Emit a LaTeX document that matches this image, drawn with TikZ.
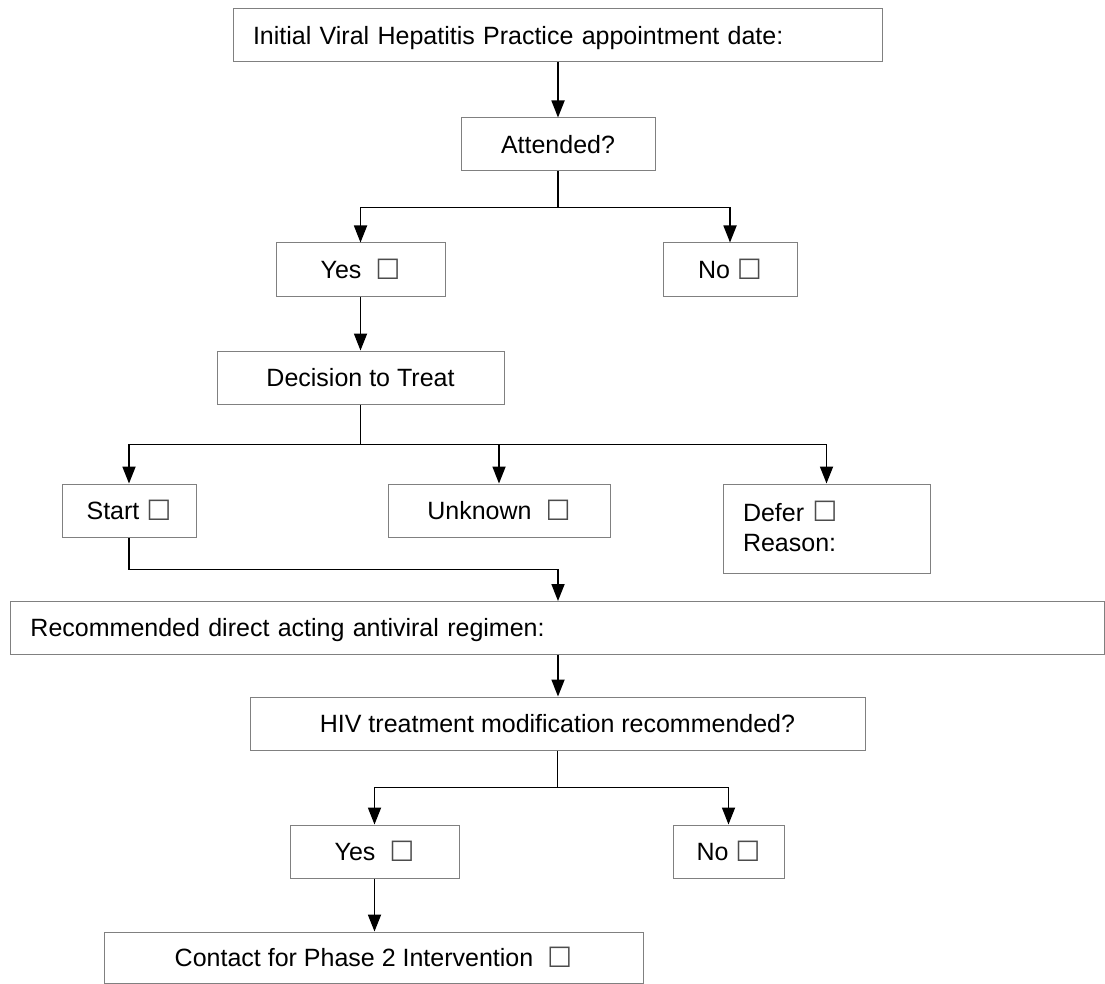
\documentclass[tikz,border=0pt]{standalone}
\usepackage{fontspec}
\setmainfont{Liberation Sans}
\newfontfamily\cbfont{DejaVu Sans}
\usetikzlibrary{arrows.meta}
\newcommand\chk{{\cbfont\fontsize{28}{28}\selectfont\color{black!70}\raisebox{-0.5pt}{☐}}}
\begin{document}
\begin{tikzpicture}[x=1pt,y=1pt,
  box/.style={draw=black!50, line width=1pt, rectangle, inner xsep=0pt, inner ysep=0pt,
    minimum height=53pt, font=\fontsize{25}{30.5}\selectfont, text height=20pt, text depth=1.6pt},
  lbox/.style={box, inner xsep=20pt, align=left},
  conn/.style={draw=black, line width=1.8pt},
  arr/.style={conn, -{Triangle[length=17pt,width=13pt]}}
]
\useasboundingbox (0,0) rectangle (1105,-984);
\node[lbox, text width=609pt] (top) at (557.5,-35.5) {Initial Viral Hepatitis Practice appointment date:};
\node[box, minimum width=194pt] (att) at (558,-144.5) {Attended?};
\node[box, minimum width=169pt] (yes1) at (360.5,-269.5) {Yes\ \ \chk};
\node[box, minimum width=134pt] (no1) at (730,-269.5) {No \chk};
\node[box, minimum width=287pt] (dec) at (360.5,-377.5) {Decision to Treat};
\node[box, minimum width=134pt] (start) at (129,-510.5) {Start \chk};
\node[box, minimum width=222pt] (unk) at (499,-510.5) {Unknown\ \ \chk};
\node[lbox, text width=167pt, minimum height=89pt, text height=18pt, text depth=33pt] (defer) at (826.5,-528.5) {Defer \chk\\Reason:};
\node[lbox, text width=1053.5pt] (rec) at (557.25,-627.5) {Recommended direct acting antiviral regimen:};
\node[box, minimum width=615pt] (hiv) at (557.5,-723.5) {HIV treatment modification recommended?};
\node[box, minimum width=169pt] (yes2) at (374.5,-851.5) {Yes\ \ \chk};
\node[box, minimum width=111pt] (no2) at (728.5,-851.5) {No \chk};
\node[box, minimum width=539pt, minimum height=51pt] (contact) at (373.5,-957.5) {Contact for Phase 2 Intervention\ \ \chk};
\coordinate (recin) at (558,-601);
% connectors
\draw[arr] (top.south -| att.north) -- (att.north);
\draw[conn] (att.south) -- ++(0,-36) coordinate (b1);
\draw[arr] (b1) -| (yes1.north);
\draw[arr] (b1) -| (no1.north);
\draw[arr] (yes1.south) -- (yes1.south |- dec.north);
\draw[conn] (dec.south) -- ++(0,-40) coordinate (b2);
\draw[arr] (b2) -| (start.north);
\draw[arr] (b2) -| (unk.north);
\draw[arr] (b2) -| (defer.north);
\draw[arr] (start.south) -- ++(0,-32) -| (recin);
\draw[arr] (recin |- rec.south) -- (recin |- hiv.north);
\draw[conn] (hiv.south) -- ++(0,-37) coordinate (b3);
\draw[arr] (b3) -| (yes2.north);
\draw[arr] (b3) -| (no2.north);
\draw[arr] (yes2.south) -- (yes2.south |- contact.north);
\end{tikzpicture}
\end{document}
